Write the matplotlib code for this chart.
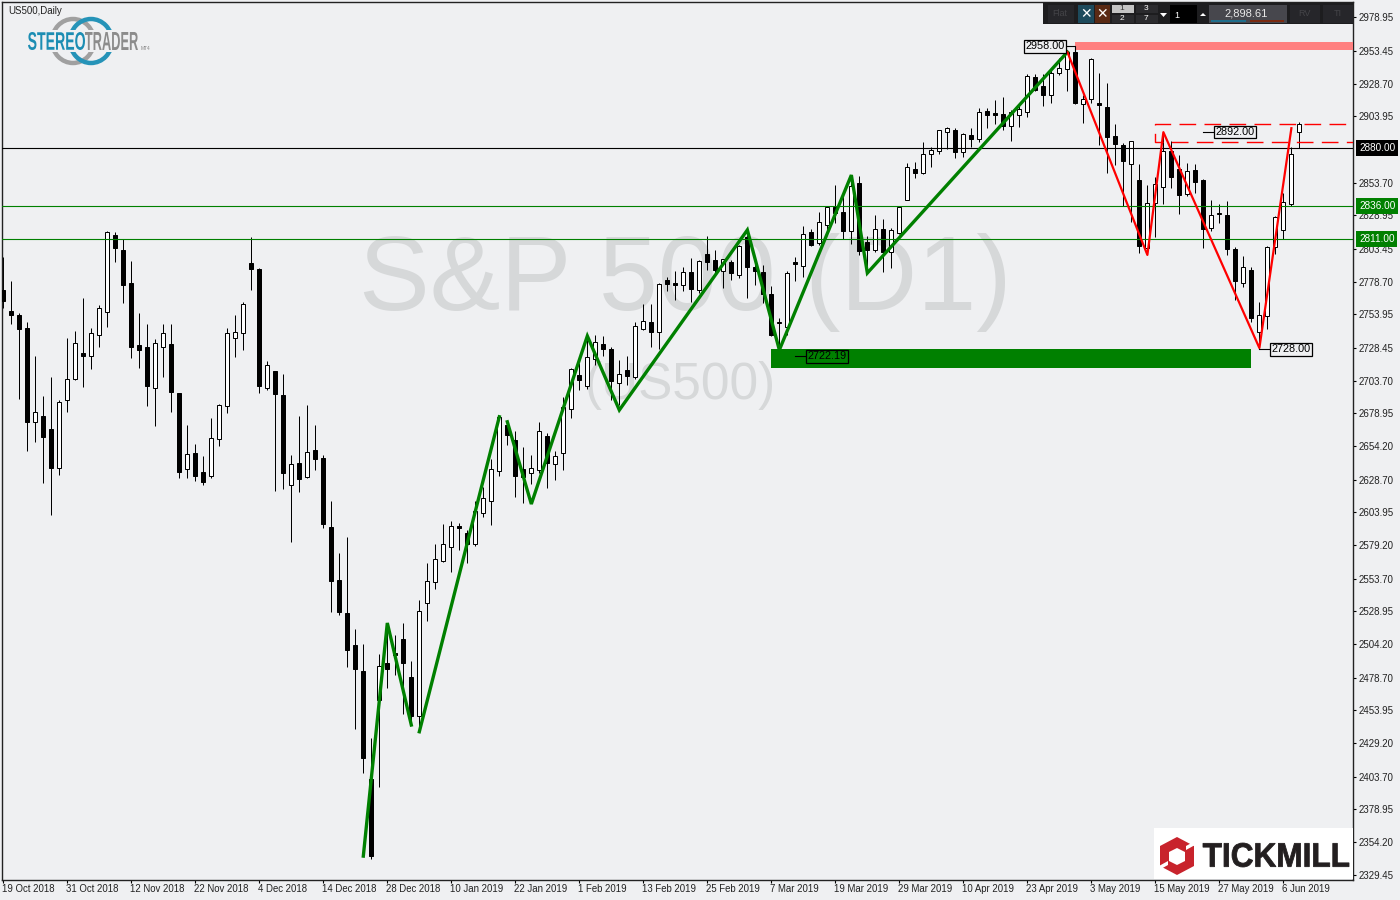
import matplotlib
matplotlib.use('Agg')
import matplotlib.pyplot as plt
from matplotlib.patches import Rectangle, Polygon, Arc, PathPatch
from matplotlib.textpath import TextPath
from matplotlib.font_manager import FontProperties
from matplotlib.transforms import Affine2D, blended_transform_factory

# daily candles
opens = [2772.4, 2756.5, 2753.5, 2743.6, 2672.2, 2677, 2667.1, 2637.8, 2689.4, 2705.3,
         2724.7, 2722.7, 2738.6, 2756, 2814.1, 2802.7, 2777.7, 2730.8, 2729.2, 2698.4,
         2729.2, 2731.5, 2694.4, 2637.1, 2649, 2634.6, 2631.5, 2659.8, 2684.8, 2736.3,
         2740.1, 2792.9, 2788.3, 2698.4, 2711.1, 2692.9, 2624.9, 2641.4, 2631, 2651.2,
         2645.2, 2592.9, 2552.8, 2527.8, 2503.5, 2483.8, 2402, 2461.9, 2489.9, 2497.4,
         2508, 2479.3, 2449.7, 2535.3, 2551.2, 2567.1, 2577.8, 2593.7, 2588.3, 2580,
         2603.5, 2612.6, 2635.3, 2670.2, 2658.8, 2636.8, 2633.8, 2636.1, 2661.8, 2640.6,
         2649, 2682.3, 2708, 2699.7, 2720.2, 2731.5, 2727.7, 2702.2, 2711.8, 2706.5,
         2742.9, 2748.2, 2740.6, 2780, 2777.7, 2776.2, 2786.1, 2772.4, 2799.7, 2795.2,
         2786.6, 2793.6, 2783.8, 2812.6, 2789.8, 2786.1, 2769.4, 2747.4, 2744.4, 2793.6,
         2790.6, 2816.4, 2807.8, 2821.7, 2835.3, 2831.5, 2817.1, 2853.5, 2808.8, 2802.7,
         2818.6, 2801.2, 2815.6, 2840.6, 2864.1, 2861.1, 2875.5, 2877.7, 2892.1, 2893.6,
         2877, 2889.9, 2886.8, 2908, 2906.5, 2905.8, 2896.7, 2905, 2907.3, 2933.8,
         2927, 2920.2, 2936.8, 2939.9, 2952.7, 2913.3, 2916.9, 2914.1, 2911.1, 2889.1,
         2882.3, 2867.9, 2855.8, 2804.3, 2838.4, 2850.5, 2877.8, 2864.1, 2845.2, 2863.4,
         2855.8, 2819.4, 2830, 2829.3, 2803.5, 2777.8, 2787.6, 2740.7, 2752.8, 2804.8,
         2817.9, 2837.6, 2892.2]
highs = [2797.7, 2779.2, 2754.8, 2748.2, 2722.4, 2692.1, 2706.5, 2688.9, 2736.1, 2741.1,
         2766.4, 2743.6, 2761.1, 2817.1, 2816.4, 2810.8, 2794.4, 2755, 2746.7, 2735.3,
         2746.7, 2746.7, 2694.4, 2670.2, 2655.8, 2646.7, 2675.5, 2686.1, 2743.6, 2753.5,
         2763.3, 2812.6, 2789.1, 2718.6, 2711.1, 2708.8, 2647.4, 2677, 2685.3, 2670.2,
         2647.4, 2612.6, 2573.2, 2585.3, 2515.6, 2504.3, 2433.1, 2496.7, 2519.9, 2511.1,
         2520.2, 2491.4, 2537.6, 2565.6, 2580, 2595.2, 2597.4, 2595.9, 2590.6, 2612.6,
         2623.2, 2644.4, 2676.5, 2672.7, 2665.6, 2653.5, 2647.4, 2672.4, 2663.9, 2650.5,
         2691.4, 2713.1, 2716.9, 2738.3, 2738.3, 2737.6, 2729.2, 2719.4, 2722.4, 2748.2,
         2761.8, 2761.8, 2777.7, 2782.3, 2786.8, 2789.8, 2796.7, 2795.2, 2813.3, 2802.7,
         2795.9, 2795.2, 2806.5, 2814.1, 2795.2, 2791.4, 2775.5, 2751.2, 2786.8, 2797.4,
         2820.9, 2818.6, 2831.5, 2835.3, 2852, 2843.6, 2859.5, 2858.8, 2813.3, 2829.2,
         2826.2, 2819.4, 2835.3, 2868.7, 2869.4, 2884.6, 2880.8, 2893.6, 2895.9, 2895.2,
         2891.4, 2895.2, 2910.3, 2910.3, 2916.4, 2918.6, 2908.8, 2912.6, 2936.1, 2936.1,
         2936.1, 2939.9, 2948.2, 2953.5, 2957, 2920.2, 2948.2, 2936.8, 2929.3, 2898.2,
         2883.8, 2885.3, 2867.9, 2852, 2858.1, 2891.2, 2885.3, 2874.7, 2868.7, 2867.9,
         2856.6, 2840.6, 2837.6, 2839.9, 2805, 2798.2, 2789.9, 2763.4, 2805.8, 2828.5,
         2845.7, 2881, 2899.7]
lows = [2758.5, 2746.7, 2689.9, 2650.5, 2657.3, 2626.2, 2602, 2632.3, 2680, 2704.3,
        2699, 2712.6, 2729.2, 2744.4, 2793.6, 2762.6, 2720.9, 2713.3, 2684.5, 2669.4,
        2706.5, 2680, 2630, 2630, 2627.7, 2624.7, 2630, 2654.2, 2679.2, 2721.7,
        2727, 2772.4, 2694.4, 2696.7, 2620.2, 2621.7, 2581.5, 2619.4, 2630, 2636.1,
        2592.1, 2528.5, 2526.2, 2486.8, 2439.9, 2406.5, 2341.4, 2396, 2470.9, 2480.8,
        2451.2, 2442.9, 2439.1, 2521.7, 2545.9, 2566.4, 2558.8, 2575.5, 2565.6, 2578.5,
        2600.5, 2594.4, 2631.5, 2655, 2615.6, 2611.1, 2625.5, 2633.8, 2622.4, 2628.5,
        2636.1, 2675.5, 2696.7, 2697.4, 2715.6, 2722.4, 2689.1, 2685.3, 2700.5, 2705,
        2742.1, 2729.2, 2727.7, 2771.7, 2764.8, 2771.7, 2763.3, 2770.2, 2787.6, 2783.8,
        2773.9, 2780, 2781.5, 2766.4, 2776.2, 2762.3, 2737.6, 2727, 2738.3, 2779.2,
        2782.3, 2805.8, 2806.5, 2817.9, 2822.9, 2811, 2807.3, 2798.9, 2785, 2801.5,
        2786.1, 2789.1, 2814.8, 2840.6, 2857.3, 2860.3, 2865.6, 2875.5, 2879.3, 2872.4,
        2873.2, 2880.8, 2884.6, 2895.2, 2898.2, 2893.6, 2885.3, 2895.9, 2903.5, 2923.2,
        2911.8, 2914.1, 2935.3, 2923.2, 2913.3, 2898.9, 2914.1, 2882.3, 2861.1, 2867.1,
        2836.1, 2824, 2800.5, 2800.5, 2812.6, 2837.6, 2849.7, 2830, 2843.7, 2846,
        2804.3, 2817.2, 2823.2, 2799, 2764.9, 2774.7, 2748.2, 2728, 2742.9, 2799.7,
        2811.1, 2836.1, 2879.8]
closes = [2764.3, 2753.5, 2742.9, 2672.4, 2679.8, 2661.1, 2637.6, 2687.3, 2704.8, 2732,
          2722.4, 2739.6, 2758.5, 2816.1, 2804.2, 2776.2, 2729.2, 2727, 2699.7, 2732,
          2739.6, 2695.2, 2634.6, 2647.9, 2631.5, 2627, 2660.1, 2685.1, 2739.6, 2740.4,
          2761.6, 2788.3, 2699.7, 2715.4, 2693.6, 2633.8, 2640.4, 2629.3, 2649.5, 2644.4,
          2595.2, 2552, 2528.5, 2499.7, 2485.3, 2417.9, 2343.7, 2487.6, 2485.3, 2495.9,
          2489.9, 2449.7, 2529.3, 2552, 2568.7, 2580, 2593.7, 2592.1, 2580, 2605,
          2614.9, 2636.8, 2676.5, 2662.6, 2631.5, 2630.8, 2637.6, 2665.6, 2641.4, 2646.7,
          2683.8, 2712.3, 2704.3, 2721.4, 2732.8, 2727.7, 2703.5, 2708.5, 2707.3, 2745.2,
          2748.9, 2740.6, 2777, 2777, 2776.2, 2786.1, 2773.2, 2794.4, 2793.6, 2787.6,
          2795.7, 2785.3, 2805.8, 2789.8, 2786.8, 2769.4, 2738.3, 2748.2, 2785.3, 2792.4,
          2814.8, 2806.5, 2823.9, 2835.3, 2830.8, 2817.1, 2851.2, 2802, 2802.7, 2818.6,
          2801.2, 2817.9, 2835.3, 2865.6, 2861.1, 2875.5, 2878.5, 2893.6, 2895.2, 2877,
          2890.6, 2886.8, 2907.3, 2905, 2905, 2896.7, 2907.3, 2909.6, 2934.6, 2924,
          2920.2, 2936.8, 2940.6, 2952.7, 2914.1, 2917.1, 2947.4, 2912.6, 2888.4, 2883,
          2870.2, 2885.3, 2805.8, 2838.4, 2852.8, 2877.8, 2858.1, 2844.4, 2862.6, 2854.3,
          2818.7, 2829.3, 2830.8, 2803.5, 2779.3, 2789.9, 2751.3, 2753.5, 2805, 2827.8,
          2839.1, 2875.5, 2898.2]

date_labels = ['19 Oct 2018', '31 Oct 2018', '12 Nov 2018', '22 Nov 2018', '4 Dec 2018', '14 Dec 2018',
               '28 Dec 2018', '10 Jan 2019', '22 Jan 2019', '1 Feb 2019', '13 Feb 2019', '25 Feb 2019',
               '7 Mar 2019', '19 Mar 2019', '29 Mar 2019', '10 Apr 2019', '23 Apr 2019', '3 May 2019',
               '15 May 2019', '27 May 2019', '6 Jun 2019']
price_ticks = [2978.95, 2953.45, 2928.70, 2903.95, 2853.70, 2828.95, 2803.45, 2778.70, 2753.95,
               2728.45, 2703.70, 2678.95, 2654.20, 2628.70, 2603.95, 2579.20, 2553.70, 2528.95,
               2504.20, 2478.70, 2453.95, 2429.20, 2403.70, 2378.95, 2354.20, 2329.45]

# swing lines (bar number, price)
green_a_x = [45, 48, 51]
green_a_y = [2343.6, 2520.2, 2442.9]
green_b_x = [52, 62]
green_b_y = [2437.8, 2676.4]
green_c_x = [63, 66, 73, 77, 93, 97, 106, 108, 133]
green_c_y = [2672.6, 2610.3, 2737.6, 2681.5, 2817.9, 2727, 2859.5, 2785.3, 2952.7]
red_x = [133, 143, 145, 157, 161]
red_y = [2952.7, 2799, 2892, 2728.5, 2895]

BG = '#eff0f2'
GREEN = '#008000'
RED = '#ff0000'
TICK_FONT = 'Liberation Sans'

fig = plt.figure(figsize=(14, 9), dpi=100, facecolor=BG)
ax = fig.add_axes([2 / 1400, 20 / 900, 1351 / 1400, 878 / 900], facecolor=BG)
ax.set_xlim(-0.16, 168.7)
ax.set_ylim(2325.5, 2990.6)

# big watermark behind everything
ax.text(0.506, 0.68, 'S&P 500 (D1)', transform=ax.transAxes, ha='center', va='center', fontsize=76.3,
        family='Liberation Sans', color='#d6d8d9', zorder=0)
ax.text(0.5025, 0.563, '(US500)', transform=ax.transAxes, ha='center', va='center', fontsize=37,
        family='Liberation Sans', color='#d6d8d9', zorder=0)

# candles
for i in range(len(opens)):
    top = max(opens[i], closes[i])
    bot = min(opens[i], closes[i])
    ax.vlines(i, lows[i], highs[i], color='black', lw=0.72, zorder=2)
    col = 'white' if closes[i] > opens[i] else 'black'
    ax.bar(i, top - bot, bottom=bot, width=0.5, color=col, edgecolor='black', lw=0.72, zorder=3)

# levels
ax.axhline(2880, color='black', lw=0.8, zorder=4)
ax.axhline(2836, color=GREEN, lw=0.8, zorder=4)
ax.axhline(2811, color=GREEN, lw=0.8, zorder=4)

# zones
ax.add_patch(Rectangle((134, 2954.2), 40, 6.1, color='#ff8080', lw=0, zorder=4))
ax.add_patch(Rectangle((96, 2713.2), 60, 14.4, color=GREEN, lw=0, zorder=4))
dash_y = [2884.5, 2884.5, 2898.2, 2898.2]
ax.plot([170, 144, 144, 170], dash_y, color=RED, lw=1.0, dashes=(12, 6), zorder=5)

for xs, ys in [(green_a_x, green_a_y), (green_b_x, green_b_y), (green_c_x, green_c_y)]:
    ax.plot(xs, ys, color=GREEN, lw=2.4, zorder=6, solid_joinstyle='miter')
ax.plot(red_x, red_y, color=RED, lw=1.6, zorder=6)

# boxed price notes
box = dict(boxstyle='square,pad=0.12', facecolor=BG, edgecolor='black', lw=0.9)
ax.plot([133, 134, 134], [2957, 2957, 2952], color='black', lw=0.8, zorder=7)
ax.text(132.7, 2957, '2958.00', ha='right', va='center', fontsize=7.8, family=TICK_FONT, bbox=box, zorder=8)
ax.plot([150, 151.3], [2892, 2892], color='black', lw=0.8, zorder=7)
ax.text(151.5, 2892, '2892.00', ha='left', va='center', fontsize=7.8, family=TICK_FONT, bbox=box, zorder=8)
ax.plot([157, 158.3], [2728, 2728], color='black', lw=0.8, zorder=7)
ax.text(158.5, 2727.5, '2728.00', ha='left', va='center', fontsize=7.8, family=TICK_FONT, bbox=box, zorder=8)
ax.plot([99, 100.4], [2722.2, 2722.2], color='black', lw=0.8, zorder=7)
ax.text(100.5, 2722.2, '2722.19', ha='left', va='center', fontsize=7.8, family=TICK_FONT,
        bbox=dict(boxstyle='square,pad=0.12', facecolor=GREEN, edgecolor='black', lw=0.9), zorder=8)

# axes furniture
ax.yaxis.tick_right()
ax.set_yticks(price_ticks)
ax.set_yticklabels(['%.2f' % v for v in price_ticks], fontsize=7.0, family=TICK_FONT, color='#222222')
ax.set_xticks(range(0, 8 * len(date_labels), 8))
ax.set_xticklabels(date_labels, fontsize=6.9, family=TICK_FONT, color='#222222', ha='left')
ax.tick_params(axis='y', length=2.2, width=0.8, pad=2.1)
ax.tick_params(axis='x', length=2.2, width=0.8, pad=0.9)
for label in ax.get_xticklabels():
    label.set_transform(label.get_transform() + Affine2D().translate(-1, 0))
for s in ax.spines.values():
    s.set_linewidth(1.0)
    s.set_color('#222222')

# price tags on the scale
tag_trans = blended_transform_factory(ax.transAxes, ax.transData)
for price, col in [(2880, 'black'), (2836, GREEN), (2811, GREEN)]:
    ax.text(1.0044, price, '%.2f' % price, transform=tag_trans, ha='left', va='center', fontsize=7.2,
            family=TICK_FONT, color='white', clip_on=False, zorder=9,
            bbox=dict(boxstyle='square,pad=0.28', facecolor=col, edgecolor='none'))

# everything below is screen furniture, laid out in picture pixels
ui = fig.add_axes([0, 0, 1, 1], facecolor='none')
ui.set_xlim(0, 1400)
ui.set_ylim(900, 0)
ui.axis('off')


def shaped_text(txt, x0, x1, y0, y1, color, family, weight='bold', stroke=0):
    # squeeze a text outline into a pixel box, used for the logos
    tp = TextPath((0, 0), txt, size=10, prop=FontProperties(family=family, weight=weight))
    bb = tp.get_extents()
    tr = Affine2D().translate(-bb.x0, -bb.y0).scale((x1 - x0) / bb.width, -(y1 - y0) / bb.height).translate(x0, y1)
    ui.add_patch(PathPatch(tp, transform=tr + ui.transData, facecolor=color, edgecolor=color, lw=stroke, zorder=3))


ui.text(8, 10.5, 'US500,Daily', fontsize=7.0, family=TICK_FONT, color='#222222', va='center')

# stereotrader logo
ui.add_patch(Arc((73, 41), 42, 44, theta1=180, theta2=360, color='#a0a0a0', lw=3.2))
ui.add_patch(Arc((73, 41), 42, 44, theta1=0, theta2=180, color='#a0a0a0', lw=3.2))
ui.add_patch(Arc((91, 41), 42, 44, theta1=180, theta2=360, color='#2593b8', lw=3.2))
ui.add_patch(Arc((91, 41), 42, 44, theta1=0, theta2=180, color='#2593b8', lw=3.2))
ui.add_patch(Rectangle((26, 30), 114, 22, color=BG, lw=0, zorder=2))
shaped_text('STEREO', 28, 85, 32, 50, '#1c8db3', 'Liberation Sans')
shaped_text('TRADER', 85, 138, 32, 50, '#8c8c8c', 'Liberation Sans')
ui.text(141, 48, 'MT4', fontsize=3.5, family=TICK_FONT, color='#888888', va='center', zorder=3)

# trading panel
ui.add_patch(Rectangle((1043, 3), 310, 21, color='#1d1d1f', lw=0, zorder=1))
for xa, xb, col in [(1048, 1074, '#26262a'), (1078, 1094, '#1d4a5c'), (1095, 1110, '#5a2a14'),
                    (1290, 1320, '#26262a'), (1323, 1353, '#26262a')]:
    ui.add_patch(Rectangle((xa, 5), xb - xa, 18, color=col, lw=0, zorder=2))
ui.text(1060, 14, 'Flat', fontsize=6.5, family=TICK_FONT, color='#444448', ha='center', va='center', zorder=3)
ui.text(1086, 14.5, '✕', fontsize=10, color='white', ha='center', va='center', zorder=3)
ui.text(1102.5, 14.5, '✕', fontsize=10, color='white', ha='center', va='center', zorder=3)
ui.add_patch(Rectangle((1112, 5), 22, 8, color='#c4c4c4', lw=0, zorder=2))
ui.add_patch(Rectangle((1112, 15), 22, 8, color='#2b2b2e', lw=0, zorder=2))
ui.add_patch(Rectangle((1136, 5), 22, 8, color='#2b2b2e', lw=0, zorder=2))
ui.add_patch(Rectangle((1136, 15), 22, 8, color='#2b2b2e', lw=0, zorder=2))
for xt, yt, t, col in [(1122, 8.5, '1', '#333333'), (1122, 19, '2', 'white'), (1146, 8.5, '3', 'white'), (1146, 19, '7', 'white')]:
    ui.text(xt, yt, t, fontsize=6, family=TICK_FONT, color=col, ha='center', va='center', zorder=3)
ui.add_patch(Rectangle((1170, 5), 27, 18, color='black', lw=0, zorder=2))
ui.text(1174, 15, '1', fontsize=6.5, family=TICK_FONT, color='white', va='center', zorder=3)
ui.add_patch(Polygon([(1160, 13), (1167, 13), (1163.5, 17)], color='white', lw=0, zorder=3))
ui.add_patch(Polygon([(1200, 16), (1206, 16), (1203, 13)], color='white', lw=0, zorder=3))
ui.add_patch(Rectangle((1209, 5), 78, 18, color='#47474d', lw=0, zorder=2))
ui.add_patch(Rectangle((1211, 20), 35, 2, color='#1f6e8c', lw=0, zorder=3))
ui.add_patch(Rectangle((1250, 20), 34, 2, color='#7a2a10', lw=0, zorder=3))
ui.text(1246, 13, '2,898.61', fontsize=8, family=TICK_FONT, color='#e8e8e8', ha='center', va='center', zorder=3)
ui.text(1304, 14, 'RV', fontsize=6.5, family=TICK_FONT, color='#444448', ha='center', va='center', zorder=3)
ui.text(1338, 14, 'TI', fontsize=6.5, family=TICK_FONT, color='#444448', ha='center', va='center', zorder=3)

# tickmill logo
ui.add_patch(Rectangle((1154, 828), 199, 51, color='white', lw=0, zorder=1))
hex_red = '#c8232c'
ui.add_patch(Polygon([(1177, 837), (1194, 846), (1194, 866), (1177, 875), (1160, 866), (1160, 846)],
                     color=hex_red, lw=0, zorder=2))
ui.add_patch(Polygon([(1177, 848), (1185, 852), (1185, 861), (1177, 865), (1169, 861), (1169, 852)],
                     color='white', lw=0, zorder=3))
ui.add_patch(Polygon([(1186, 846), (1195, 841), (1195, 845), (1186, 850)], color='white', lw=0, zorder=3))
ui.add_patch(Polygon([(1159, 866), (1168, 861), (1168, 865), (1159, 870)], color='white', lw=0, zorder=3))
shaped_text('TICKMILL', 1203, 1349, 843, 867, '#231f20', 'Liberation Sans', stroke=0.6)

fig.savefig('out.png', dpi=100, facecolor=BG)
